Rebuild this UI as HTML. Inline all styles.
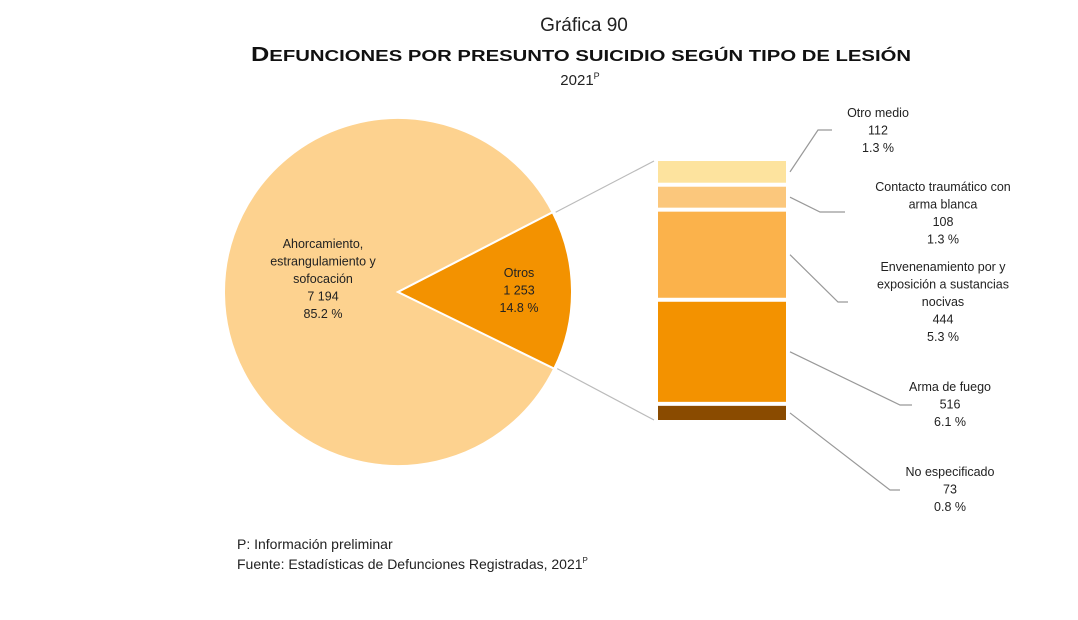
<!DOCTYPE html>
<html><head><meta charset="utf-8"><style>
body{margin:0;background:#fff;width:1078px;height:620px;overflow:hidden;font-family:"Liberation Sans",sans-serif;}
svg{display:block}
</style></head><body>
<svg width="1078" height="620">
<text x="584" y="31" text-anchor="middle" font-size="19" fill="#222">Gráfica 90</text>
<text x="581" y="61" text-anchor="middle" font-size="20" font-weight="bold" fill="#111" textLength="660" lengthAdjust="spacingAndGlyphs">D<tspan font-size="16">EFUNCIONES POR PRESUNTO SUICIDIO SEGÚN TIPO DE LESIÓN</tspan></text>
<text x="580" y="85" text-anchor="middle" font-size="15" fill="#222">2021<tspan font-size="9" dy="-6">P</tspan></text>
<g id="pie"></g>
<g id="bar"></g>
<g id="labels"></g>
<text x="237" y="549" font-size="14" fill="#222">P: Información preliminar</text>
<text x="237" y="569" font-size="14" fill="#222">Fuente: Estadísticas de Defunciones Registradas, 2021<tspan font-size="8" dy="-6">P</tspan></text>
</svg>
<script>
const pieCats=["Ahorcamiento, estrangulamiento y sofocación","Otros"];
const pieValues=[7194,1253];
const piePcts=["85.2 %","14.8 %"];
const barCats=["Otro medio","Contacto traumático con arma blanca","Envenenamiento por y exposición a sustancias nocivas","Arma de fuego","No especificado"];
const barValues=[112,108,444,516,73];
const barPcts=["1.3 %","1.3 %","5.3 %","6.1 %","0.8 %"];
const NS="http://www.w3.org/2000/svg";
function mk(tag,attrs,parent){const e=document.createElementNS(NS,tag);for(const k in attrs)e.setAttribute(k,attrs[k]);parent.appendChild(e);return e;}
const pie=document.getElementById('pie'),bar=document.getElementById('bar'),lab=document.getElementById('labels'),svg=document.querySelector('svg');
const cx=398,cy=292,r=174;
const total=pieValues[0]+pieValues[1];
const othersAng=pieValues[1]/total*2*Math.PI;
const a0=-othersAng/2-0.01,a1=othersAng/2-0.01;
function pt(a){return [cx+r*Math.cos(a),cy+r*Math.sin(a)];}
const p0=pt(a0),p1=pt(a1);
let s=mk('path',{d:`M${cx},${cy}L${p1[0]},${p1[1]}A${r},${r} 0 1 1 ${p0[0]},${p0[1]}Z`,fill:'#FDD28F',stroke:'#fff','stroke-width':2},pie);


s=mk('path',{d:`M${cx},${cy}L${p0[0]},${p0[1]}A${r},${r} 0 0 1 ${p1[0]},${p1[1]}Z`,fill:'#F39200',stroke:'#fff','stroke-width':2},pie);


function lines(x,y,arr,parent,name){const t=mk('text',{x:x,y:y,'text-anchor':'middle','font-size':12.5,fill:'#222'},parent);arr.forEach((l,i)=>{const ts=mk('tspan',{x:x,dy:i?17.5:0},t);ts.textContent=l;});}
const fmt=v=>v>=1000?String(v).replace(/\B(?=(\d{3})+$)/,' '):String(v);
lines(323,248,["Ahorcamiento,","estrangulamiento y","sofocación",fmt(pieValues[0]),piePcts[0]],pie,'pie-label-ahorcamiento');
lines(519,277,[pieCats[1],fmt(pieValues[1]),piePcts[1]],pie,'pie-label-otros');
const bx=658,bw=128,btop=161,bbot=420,gap=4;
const sum=barValues.reduce((a,b)=>a+b,0);
const scale=(bbot-btop-gap*(barValues.length-1))/sum;
const cols=['#FDE39E','#FBC77C','#FBB24B','#F39200','#8A4B00'];
let y=btop;const mids=[];
barValues.forEach((v,i)=>{const h=v*scale;const rc=mk('rect',{x:bx,y:y,width:bw,height:h,fill:cols[i]},bar);mids.push(y+h/2);y+=h+gap;});
const c1=mk('line',{x1:p0[0]+3,y1:p0[1],x2:bx-4,y2:btop,stroke:'#bbb','stroke-width':1.2},svg);
const c2=mk('line',{x1:p1[0]+3,y1:p1[1],x2:bx-4,y2:bbot,stroke:'#bbb','stroke-width':1.2},svg);
const labPos=[[878,117,818,130,832],[943,191,820,212,845],[943,271,838,302,848],[950,391,900,405,912],[950,476,890,490,900]];
const texts=[["Otro medio"],["Contacto traumático con","arma blanca"],["Envenenamiento por y","exposición a sustancias","nocivas"],["Arma de fuego"],["No especificado"]];
barValues.forEach((v,i)=>{const [tx,ty,ex,ey,ex2]=labPos[i];
const pl=mk('polyline',{points:`${bx+bw+4},${mids[i]} ${ex},${ey} ${ex2},${ey}`,fill:'none',stroke:'#999','stroke-width':1.2},lab);
lines(tx,ty,[...texts[i],fmt(v),barPcts[i]],lab,'bar-label-'+i);});
</script>
</body></html>
